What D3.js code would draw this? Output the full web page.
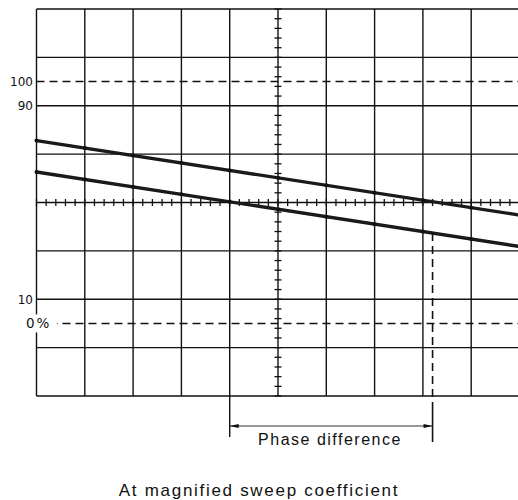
<!DOCTYPE html>
<html>
<head>
<meta charset="utf-8">
<script src="https://cdn.jsdelivr.net/npm/d3@7"></script>
<style>
  body { margin: 0; background: #fff; }
  text { font-family: "Liberation Sans", Arial, sans-serif; fill: #111; }
</style>
</head>
<body>
<div id="viz-container"></div>
<script>
// graticule divisions (x: 0..10, y: -4..4 around the centre line)
var xDivisions = d3.range(0, 11);
var yDivisions = d3.range(-4, 5);
var refLevels = [2.5, -2.5];           // 100% and 0% dashed levels
var levelLabels = ["100", "90", "10", "0%"];
var levelValues = [2.5, 2, -2, -2.5];
// the two traces, [x div, y div]
var traceUpper = [[0, 1.28], [10, -0.26]];
var traceLower = [[0, 0.63], [10, -0.91]];
// phase difference markers (x div)
var phaseStart = 4;
var phaseEnd = 8.2;
var phaseLabel = "Phase difference";
var caption = "At magnified sweep coefficient";

var width = 518, height = 500;
var x = d3.scaleLinear().domain([0, 10]).range([36.5, 519.5]);
var y = d3.scaleLinear().domain([-4, 4]).range([396, 9]);

var svg = d3.select("#viz-container").append("svg")
    .attr("width", width)
    .attr("height", height);

var ink = "#111";

// grid
var grid = svg.append("g").attr("class", "grid");
grid.selectAll(".vline")
    .data(xDivisions)
  .enter().append("line")
    .attr("x1", function(d) { return x(d); })
    .attr("x2", function(d) { return x(d); })
    .attr("y1", y(4))
    .attr("y2", y(-4))
    .style("stroke", ink)
    .style("stroke-width", 1.4);
grid.selectAll(".hline")
    .data(yDivisions.filter(function(d) { return d != 0; }))
  .enter().append("line")
    .attr("x1", x(0))
    .attr("x2", x(10))
    .attr("y1", function(d) { return y(d); })
    .attr("y2", function(d) { return y(d); })
    .style("stroke", ink)
    .style("stroke-width", 1.4);

// centre lines with minor ticks
grid.append("line")
    .attr("x1", x(0)).attr("x2", x(10))
    .attr("y1", y(0)).attr("y2", y(0))
    .style("stroke", ink).style("stroke-width", 1.6);
var minorX = d3.range(0, 50.5, 1).map(function(i) { return i / 5; });
grid.selectAll(".tickx")
    .data(minorX)
  .enter().append("line")
    .attr("x1", function(d) { return x(d); })
    .attr("x2", function(d) { return x(d); })
    .attr("y1", y(0) - 3.5)
    .attr("y2", y(0) + 3.5)
    .style("stroke", ink)
    .style("stroke-width", 1.3);
var minorY = d3.range(-20, 20.5, 1).map(function(i) { return i / 5; });
grid.selectAll(".ticky")
    .data(minorY)
  .enter().append("line")
    .attr("x1", x(5) - 3.5)
    .attr("x2", x(5) + 3.5)
    .attr("y1", function(d) { return y(d); })
    .attr("y2", function(d) { return y(d); })
    .style("stroke", ink)
    .style("stroke-width", 1.3);

// dashed reference levels
grid.selectAll(".ref")
    .data(refLevels)
  .enter().append("line")
    .attr("x1", x(0))
    .attr("x2", x(10))
    .attr("y1", function(d) { return y(d); })
    .attr("y2", function(d) { return y(d); })
    .style("stroke", ink)
    .style("stroke-width", 1.4)
    .style("stroke-dasharray", "8,5");

// traces
var line = d3.line()
    .x(function(d) { return x(d[0]); })
    .y(function(d) { return y(d[1]); });
[traceUpper, traceLower].forEach(function(tr) {
    svg.append("path")
        .datum(tr)
        .attr("d", line)
        .style("fill", "none")
        .style("stroke", "#1a1a1a")
        .style("stroke-width", 3.4);
    var pts = xDivisions.map(function(d) {
        var t = (d - tr[0][0]) / (tr[1][0] - tr[0][0]);
        return [d, tr[0][1] + t * (tr[1][1] - tr[0][1])];
    });
    svg.selectAll(null)
        .data(pts)
      .enter().append("circle")
        .attr("cx", function(d) { return x(d[0]); })
        .attr("cy", function(d) { return y(d[1]); })
        .attr("r", 2)
        .style("fill", "#111");
});

// phase difference marker
var lowerAtEnd = traceLower[0][1] + (phaseEnd / 10) * (traceLower[1][1] - traceLower[0][1]);
svg.append("line")
    .attr("x1", x(phaseEnd)).attr("x2", x(phaseEnd))
    .attr("y1", y(lowerAtEnd)).attr("y2", 399)
    .style("stroke", ink).style("stroke-width", 1.6)
    .style("stroke-dasharray", "8,5");
svg.append("line")
    .attr("x1", x(phaseEnd)).attr("x2", x(phaseEnd))
    .attr("y1", 402).attr("y2", 442)
    .style("stroke", ink).style("stroke-width", 1.6);
svg.append("line")
    .attr("x1", x(phaseStart)).attr("x2", x(phaseStart))
    .attr("y1", y(-4)).attr("y2", 437)
    .style("stroke", ink).style("stroke-width", 1.4);
var arrowY = 426;
svg.append("line")
    .attr("x1", x(phaseStart)).attr("x2", x(phaseEnd))
    .attr("y1", arrowY).attr("y2", arrowY)
    .style("stroke", "#333").style("stroke-width", 1.1);
svg.append("path")
    .attr("d", "M" + x(phaseStart) + "," + arrowY + "l9,-2l0,4z")
    .style("fill", ink);
svg.append("path")
    .attr("d", "M" + x(phaseEnd) + "," + arrowY + "l-9,-2l0,4z")
    .style("fill", ink);

// level labels
var labels = svg.append("g");
levelLabels.forEach(function(lbl, i) {
    if (lbl == "0%") {
        labels.append("rect")
            .attr("x", 24).attr("y", y(levelValues[i]) - 9)
            .attr("width", 33).attr("height", 18)
            .style("fill", "#fff");
        labels.append("text")
            .attr("x", 26)
            .attr("y", y(levelValues[i]))
            .attr("dy", "0.36em")
            .style("font-family", "'DejaVu Sans', sans-serif")
            .style("font-size", "13.5px")
            .style("letter-spacing", "2px")
            .text(lbl);
    } else {
        labels.append("text")
            .attr("x", 33)
            .attr("y", y(levelValues[i]))
            .attr("dy", "0.36em")
            .attr("text-anchor", "end")
            .style("font-family", "'DejaVu Sans', sans-serif")
            .style("font-size", "12px")
            .text(lbl);
    }
});

svg.append("text")
    .attr("x", 330)
    .attr("y", 445)
    .attr("text-anchor", "middle")
    .style("font-size", "16px")
    .style("letter-spacing", "1.5px")
    .text(phaseLabel);

svg.append("text")
    .attr("x", 259)
    .attr("y", 496)
    .attr("text-anchor", "middle")
    .style("font-size", "17px")
    .style("letter-spacing", "1.7px")
    .text(caption);
</script>
</body>
</html>
